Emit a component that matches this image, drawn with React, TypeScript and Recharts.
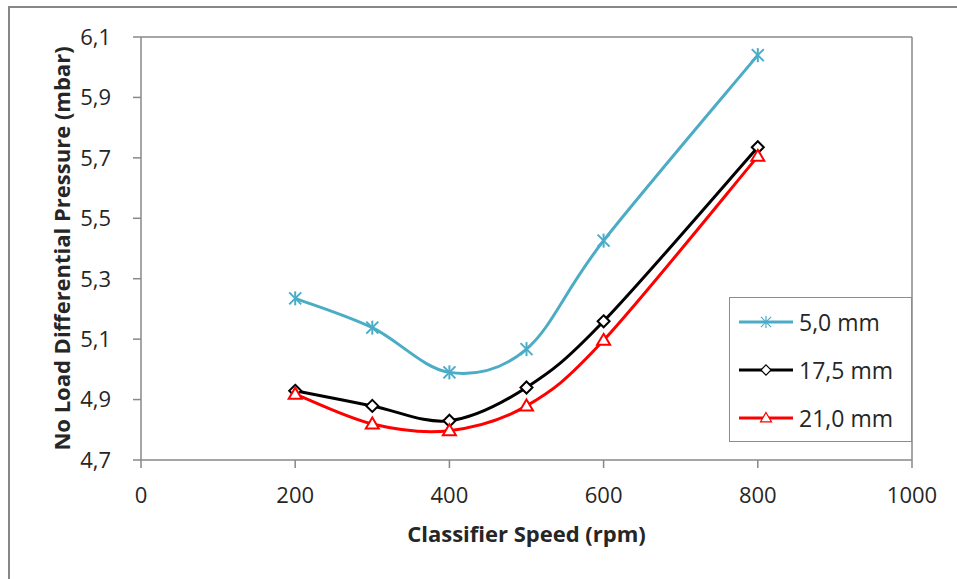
import {
  LineChart,
  Line,
  XAxis,
  YAxis,
  Legend,
  ReferenceLine,
} from "recharts"

const speeds = [200, 300, 400, 500, 600, 800]
const p50 = [5.235, 5.138, 4.99, 5.067, 5.426, 6.04]
const p175 = [4.929, 4.879, 4.83, 4.94, 5.159, 5.735]
const p210 = [4.918, 4.819, 4.797, 4.879, 5.096, 5.705]

const xTicks = [0, 200, 400, 600, 800, 1000]
const yTicks = [4.7, 4.9, 5.1, 5.3, 5.5, 5.7, 5.9, 6.1]

const data = speeds.map((s, i) => ({ speed: s, a: p50[i], b: p175[i], c: p210[i] }))

const FONT = "'Open Sans', sans-serif"
const AXIS = "#888888"
const TEXT = "#262626"

// Excel-style smoothed line (Catmull-Rom through the points)
const smoothCurve = (context: any) => {
  let pts: number[][] = []
  return {
    areaStart() {},
    areaEnd() {},
    lineStart() {
      pts = []
    },
    point(x: number, y: number) {
      pts.push([+x, +y])
    },
    lineEnd() {
      if (!pts.length) return
      context.moveTo(pts[0][0], pts[0][1])
      for (let i = 0; i < pts.length - 1; i++) {
        const p0 = pts[Math.max(i - 1, 0)]
        const p1 = pts[i]
        const p2 = pts[i + 1]
        const p3 = pts[Math.min(i + 2, pts.length - 1)]
        context.bezierCurveTo(
          p1[0] + (p2[0] - p0[0]) / 6,
          p1[1] + (p2[1] - p0[1]) / 6,
          p2[0] - (p3[0] - p1[0]) / 6,
          p2[1] - (p3[1] - p1[1]) / 6,
          p2[0],
          p2[1]
        )
      }
    },
  }
}

function Marker({ kind, cx, cy, color, w = 2, s = 1 }: { kind: string; cx: number; cy: number; color: string; w?: number; s?: number }) {
  if (kind === "star") {
    return (
      <g stroke={color} strokeWidth={w}>
        <line x1={cx - 6 * s} y1={cy - 6 * s} x2={cx + 6 * s} y2={cy + 6 * s} />
        <line x1={cx - 6 * s} y1={cy + 6 * s} x2={cx + 6 * s} y2={cy - 6 * s} />
        <line x1={cx} y1={cy - 7 * s} x2={cx} y2={cy + 7 * s} />
      </g>
    )
  }
  if (kind === "diamond") {
    const d = 6 * s
    return (
      <polygon
        points={`${cx},${cy - d} ${cx + d},${cy} ${cx},${cy + d} ${cx - d},${cy}`}
        fill="#fff"
        stroke={color}
        strokeWidth={w}
      />
    )
  }
  return (
    <polygon
      points={`${cx},${cy - 6.5 * s} ${cx + 6.5 * s},${cy + 4.5 * s} ${cx - 6.5 * s},${cy + 4.5 * s}`}
      fill="#fff"
      stroke={color}
      strokeWidth={w}
    />
  )
}

const series = [
  { key: "a", name: "5,0 mm", color: "#4BACC6", marker: "star" },
  { key: "b", name: "17,5 mm", color: "#000000", marker: "diamond" },
  { key: "c", name: "21,0 mm", color: "#FF0000", marker: "triangle" },
]

function LegendBox() {
  return (
    <div
      style={{
        width: 183,
        height: 145,
        boxSizing: "border-box",
        border: "1px solid #8c8c8c",
        background: "#fff",
        paddingLeft: 9,
        fontFamily: FONT,
        fontSize: 23,
        color: TEXT,
      }}
    >
      {series.map((s) => (
        <div key={s.key} style={{ height: 48, display: "flex", alignItems: "center" }}>
          <svg width={55} height={20} style={{ marginRight: 5 }}>
            <line x1={0} y1={10} x2={54} y2={10} stroke={s.color} strokeWidth={3} />
            <Marker kind={s.marker} cx={27} cy={10} color={s.color} w={1.2} s={0.85} />
          </svg>
          <span>{s.name}</span>
        </div>
      ))}
    </div>
  )
}

export default function App() {
  return (
    <div
      style={{
        position: "absolute",
        top: 6,
        left: 8,
        width: 947,
        height: 571,
        borderTop: "2px solid #878787",
        borderLeft: "2px solid #878787",
        background: "#fff",
      }}
    >
      <div style={{ position: "absolute", top: 0, left: 0 }}>
        <LineChart
          width={940}
          height={565}
          data={data}
          margin={{ top: 29, right: 38, left: 31, bottom: 53 }}
          style={{ fontFamily: FONT }}
        >
          <XAxis
            dataKey="speed"
            type="number"
            domain={[0, 1000]}
            ticks={xTicks}
            height={60}
            stroke={AXIS}
            strokeWidth={1.5}
            tickSize={8}
            tickMargin={19}
            tick={{ fill: TEXT, fontSize: 22 }}
            label={{
              value: "Classifier Speed (rpm)",
              position: "bottom",
              offset: 6,
              style: { fill: TEXT, fontSize: 22, fontWeight: 700 },
            }}
          />
          <YAxis
            type="number"
            domain={[4.7, 6.1]}
            ticks={yTicks}
            width={100}
            stroke={AXIS}
            strokeWidth={1.5}
            tickSize={8}
            tickMargin={22}
            tick={{ fill: TEXT, fontSize: 22 }}
            tickFormatter={(v: number) => v.toFixed(1).replace(".", ",")}
            label={{
              value: "No Load Differential Pressure (mbar)",
              angle: -90,
              position: "insideLeft",
              offset: 21,
              style: { fill: TEXT, fontSize: 22, fontWeight: 700, textAnchor: "middle" },
            }}
          />
          <ReferenceLine y={6.1} stroke={AXIS} strokeWidth={1.5} />
          <ReferenceLine x={1000} stroke={AXIS} strokeWidth={1.5} />
          {series.map((s) => (
            <Line
              key={s.key}
              dataKey={s.key}
              name={s.name}
              stroke={s.color}
              strokeWidth={3}
              type={smoothCurve as any}
              isAnimationActive={false}
              dot={(p: any) => <Marker key={`${s.key}-${p.index}`} kind={s.marker} cx={p.cx} cy={p.cy} color={s.color} />}
              activeDot={false}
            />
          ))}
          <Legend
            layout="horizontal"
            verticalAlign="middle"
            align="center"
            content={() => <LegendBox />}
            wrapperStyle={{ left: 719, top: 289, width: 183, height: 145 }}
          />
        </LineChart>
      </div>
    </div>
  )
}
